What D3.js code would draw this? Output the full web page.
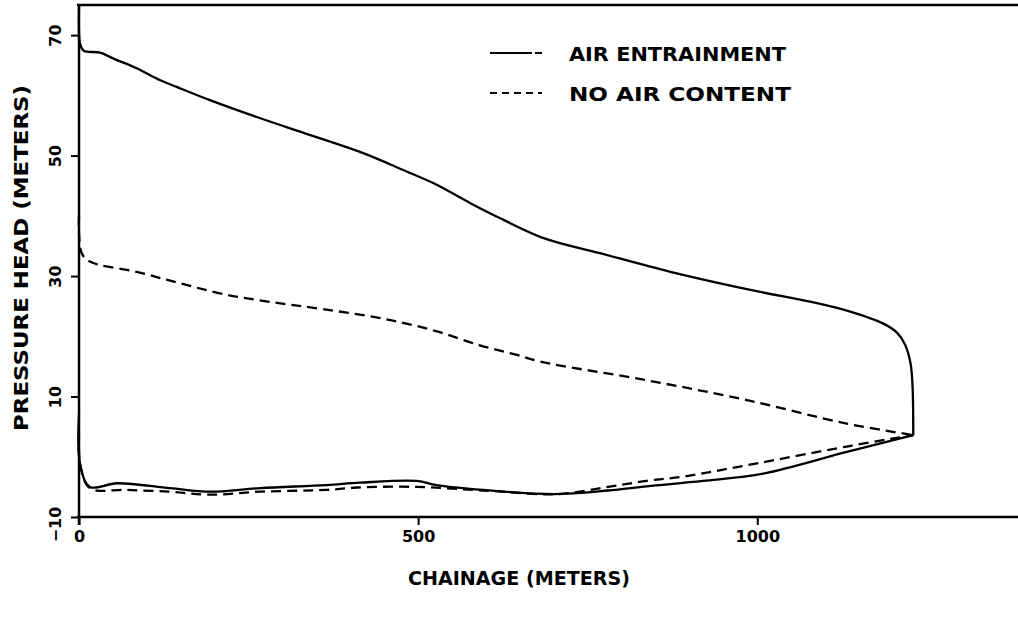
<!DOCTYPE html>
<html>
<head>
<meta charset="utf-8">
<script src="https://cdn.jsdelivr.net/npm/d3@7"></script>
<style>
  body { margin: 0; background: #fff; }
  text { font-family: "DejaVu Sans", "Liberation Sans", Arial, sans-serif; font-weight: bold; fill: #000; }
</style>
</head>
<body>
<svg id="chart" width="1018" height="617"></svg>
<script>
// ------ Data (chainage in m, pressure head in m)
var airMaxX = [0, 0, 1.5, 7, 31, 51, 85, 120, 144, 193, 262, 341, 419, 478, 523, 577, 621, 685, 768, 872, 990, 1088, 1137, 1186, 1206, 1218, 1226, 1229, 1230];
var airMaxY = [75, 70.5, 68.6, 67.4, 67.1, 66.1, 64.5, 62.5, 61.4, 59.2, 56.4, 53.4, 50.4, 47.6, 45.4, 42.1, 39.6, 36.3, 33.8, 30.7, 27.7, 25.5, 24.1, 22.1, 20.6, 18.6, 15.5, 11.6, 3.6];

var airMinX = [0, 1.5, 16, 56, 134, 193, 267, 365, 414, 498, 527, 596, 700, 780, 837, 920, 1009, 1132, 1230];
var airMinY = [7, -1.1, -5.0, -4.4, -5.2, -5.8, -5.2, -4.7, -4.3, -4.0, -4.7, -5.5, -6.2, -5.6, -4.9, -4.0, -2.8, 0.8, 3.6];

var noAirMaxX = [0, 0, 4, 16, 85, 149, 213, 282, 360, 459, 528, 591, 646, 680, 837, 985, 1132, 1230];
var noAirMaxY = [40, 37.1, 33.8, 32.4, 30.7, 28.8, 27.0, 25.7, 24.5, 22.7, 20.8, 18.5, 16.9, 15.8, 12.7, 9.4, 5.5, 3.6];

var noAirMinX = [0, 2, 16, 70, 134, 193, 267, 365, 410, 498, 596, 705, 780, 837, 891, 985, 1132, 1230];
var noAirMinY = [4, -1.5, -5.2, -5.5, -5.8, -6.3, -5.8, -5.5, -5.1, -5.0, -5.6, -6.2, -5.0, -4.0, -3.3, -1.4, 1.7, 3.6];

var xTicks = [0, 500, 1000];
var yTicks = [70, 50, 30, 10, -10];
var legendLabels = ["AIR ENTRAINMENT", "NO AIR CONTENT"];

// ------ Scales
var xScale = d3.scaleLinear().domain([0, 1380]).range([79, 1015]);
var yScale = d3.scaleLinear().domain([-10, 75]).range([517, 5]);

var svg = d3.select("#chart");
var fontFam = "'DejaVu Sans', 'Liberation Sans', Arial, sans-serif";

function zipXY(xs, ys) { return xs.map(function(x, i) { return [x, ys[i]]; }); }

var line = d3.line()
  .curve(d3.curveCatmullRom.alpha(0.5))
  .x(function(d) { return xScale(d[0]); })
  .y(function(d) { return yScale(d[1]); });

// ------ Frame: top border
svg.append("line")
  .attr("x1", xScale(0) - 2).attr("x2", 1018)
  .attr("y1", yScale(75)).attr("y2", yScale(75))
  .attr("stroke", "#000").attr("stroke-width", 2.5);

// x-axis
var xAxis = svg.append("g")
  .attr("transform", "translate(0," + yScale(-10) + ")")
  .call(d3.axisBottom(xScale).tickValues(xTicks).tickSize(8).tickFormat(d3.format("d")));
xAxis.select(".domain").attr("d", "M" + (xScale(0) - 2) + ",0H1018").attr("stroke-width", 2.5);
xAxis.selectAll(".tick line").attr("stroke-width", 2);
xAxis.selectAll(".tick text")
  .attr("y", 14)
  .style("font-size", "16px")
  .style("font-family", fontFam)
  .style("font-weight", "bold");

// y-axis, labels rotated like the original
var yAxis = svg.append("g")
  .attr("transform", "translate(" + xScale(0) + ",0)")
  .call(d3.axisLeft(yScale).tickValues(yTicks).tickSize(8).tickFormat(d3.format("d")));
yAxis.select(".domain").attr("d", "M0," + yScale(75) + "V" + (yScale(-10) + 8)).attr("stroke-width", 2.5);
yAxis.selectAll(".tick line").attr("stroke-width", 2);
yAxis.selectAll(".tick text")
  .attr("x", null).attr("dy", null)
  .attr("transform", function(d) { return "translate(-18," + (d < 0 ? 7 : 0) + ") rotate(-90)"; })
  .style("text-anchor", "middle")
  .style("font-size", "16px")
  .style("font-family", fontFam)
  .style("font-weight", "bold");

// ------ Curves
var series = [
  {pts: zipXY(airMaxX, airMaxY), dash: null},
  {pts: zipXY(airMinX, airMinY), dash: null},
  {pts: zipXY(noAirMaxX, noAirMaxY), dash: "10,6"},
  {pts: zipXY(noAirMinX, noAirMinY), dash: "10,6"}
];
svg.selectAll(".curve").data(series).enter().append("path")
  .attr("class", "curve")
  .attr("d", function(d) { return line(d.pts); })
  .attr("fill", "none")
  .attr("stroke", "#000")
  .attr("stroke-width", 2.3)
  .attr("stroke-linejoin", "round")
  .attr("stroke-dasharray", function(d) { return d.dash; });

// ------ Legend
var legend = svg.selectAll(".legend").data(legendLabels).enter().append("g")
  .attr("class", "legend")
  .attr("transform", function(d, i) { return "translate(490," + (53 + i * 40) + ")"; });
legend.append("line")
  .attr("x1", 0).attr("x2", 52).attr("y1", 0).attr("y2", 0)
  .attr("stroke", "#000").attr("stroke-width", 2)
  .attr("stroke-dasharray", function(d, i) { return i === 0 ? "42,3,7" : "7,5"; });
legend.append("text")
  .attr("x", 79).attr("y", 8)
  .attr("textLength", function(d, i) { return i === 0 ? 217 : 222; })
  .attr("lengthAdjust", "spacingAndGlyphs")
  .style("font-size", "19px")
  .text(function(d) { return d; });

// ------ Axis titles
svg.append("text")
  .attr("x", 519).attr("y", 585)
  .attr("text-anchor", "middle")
  .attr("textLength", 222).attr("lengthAdjust", "spacingAndGlyphs")
  .style("font-size", "20px")
  .text("CHAINAGE (METERS)");

svg.append("text")
  .attr("transform", "translate(28,258) rotate(-90)")
  .attr("text-anchor", "middle")
  .attr("textLength", 346).attr("lengthAdjust", "spacingAndGlyphs")
  .style("font-size", "20px")
  .text("PRESSURE HEAD (METERS)");
</script>
</body>
</html>
